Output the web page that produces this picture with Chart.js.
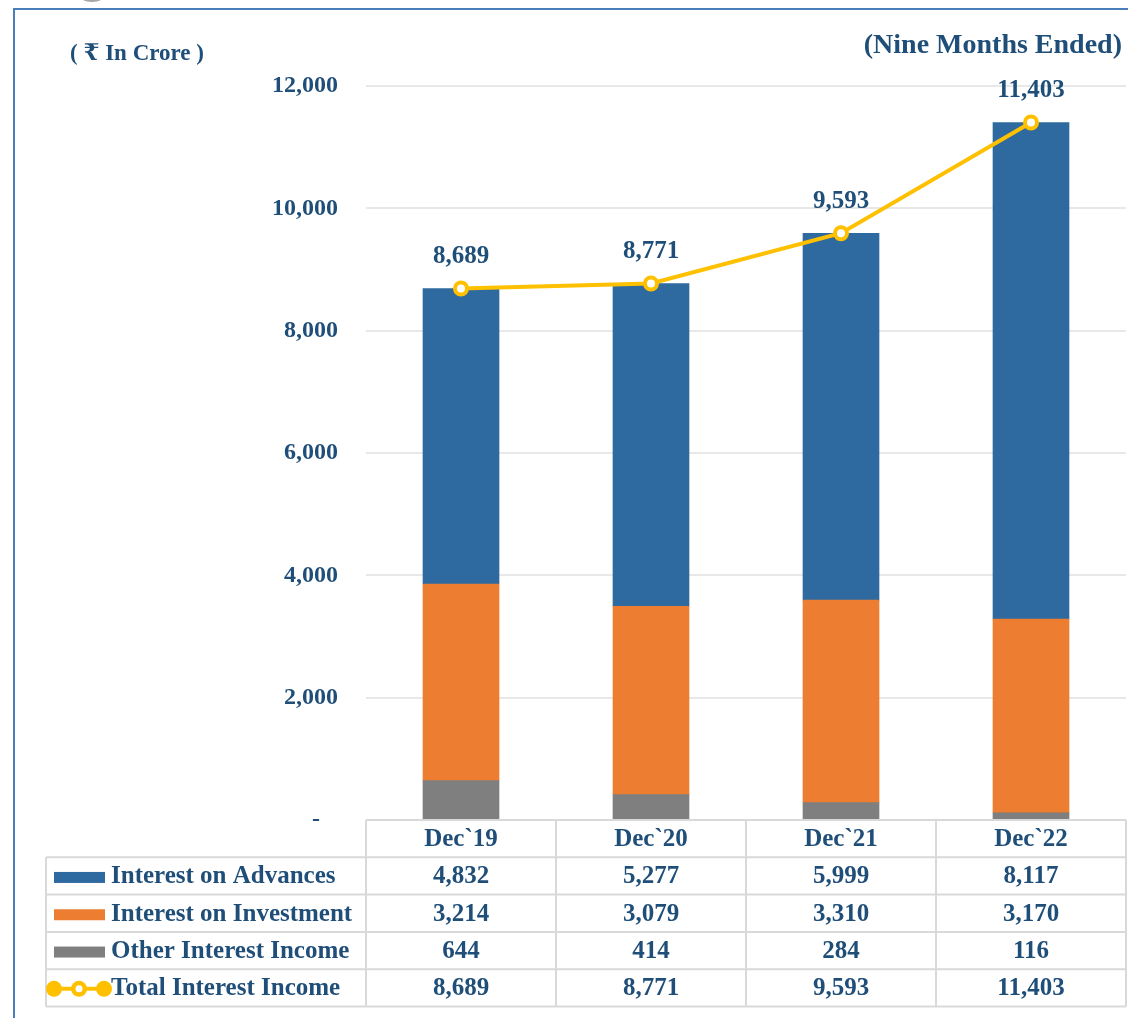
<!DOCTYPE html>
<html>
<head>
<meta charset="utf-8">
<script src="https://cdn.jsdelivr.net/npm/chart.js@4"></script>
<style>
  body { margin: 0; background: #fff; overflow: hidden; }
  #wrap { width: 1128px; height: 1018px; }
  canvas { display: block; }
</style>
</head>
<body>
<div id="wrap"><canvas id="myChart" width="1128" height="1018"></canvas></div>
<script>
'use strict';

// chart data
var categories = ['Dec`19', 'Dec`20', 'Dec`21', 'Dec`22'];
var advances = [4832, 5277, 5999, 8117];
var investment = [3214, 3079, 3310, 3170];
var otherIncome = [644, 414, 284, 116];
var totalIncome = [8689, 8771, 9593, 11403];
var yTicks = [0, 2000, 4000, 6000, 8000, 10000, 12000];

var seriesNames = ['Interest on Advances', 'Interest on Investment', 'Other Interest Income', 'Total Interest Income'];

// colors + fonts
var blue = '#2E6A9F';
var orange = '#ED7D31';
var grey = '#7F7F7F';
var yellow = '#FFC000';
var textBlue = '#1F4E79';
var serif = '"Liberation Serif", "DejaVu Serif", serif';

function fmt(n) {
  return n.toLocaleString('en-US');
}

// table rows built from the arrays
var tableRows = [
  { name: seriesNames[0], values: advances, color: blue, marker: 'box' },
  { name: seriesNames[1], values: investment, color: orange, marker: 'box' },
  { name: seriesNames[2], values: otherIncome, color: grey, marker: 'box' },
  { name: seriesNames[3], values: totalIncome, color: yellow, marker: 'line' }
];

// draws frame, titles, point labels and the data table
var extrasPlugin = {
  id: 'extras',
  afterDraw: function (chart) {
    var ctx = chart.ctx;
    var xs = chart.scales.x;
    var area = chart.chartArea;
    ctx.save();

    // little grey knob cut off at the top
    ctx.fillStyle = '#A6A6A6';
    ctx.beginPath();
    ctx.ellipse(92, -6, 14, 8, 0, 0, Math.PI * 2);
    ctx.fill();

    // blue frame (left + top)
    ctx.strokeStyle = '#4A7EBB';
    ctx.lineWidth = 2;
    ctx.beginPath();
    ctx.moveTo(14, 1018);
    ctx.lineTo(14, 9);
    ctx.lineTo(1128, 9);
    ctx.stroke();

    // titles
    ctx.fillStyle = textBlue;
    ctx.font = 'bold 23px ' + serif;
    ctx.textBaseline = 'middle';
    ctx.textAlign = 'left';
    ctx.fillText('( \u20B9 In Crore )', 70, 54);
    ctx.font = 'bold 28px ' + serif;
    ctx.textAlign = 'right';
    ctx.fillText('(Nine Months Ended)', 1122, 46);

    // labels over the total line
    var meta = chart.getDatasetMeta(3);
    ctx.font = 'bold 25px ' + serif;
    ctx.textAlign = 'center';
    meta.data.forEach(function (pt, i) {
      ctx.fillText(fmt(totalIncome[i]), pt.x, pt.y - 32);
    });

    // data table
    var colW = (area.right - area.left) / categories.length;
    var headTop = area.bottom;
    var rowH = 37.3;
    var tableLeft = 46;
    var tableBottom = headTop + rowH * (tableRows.length + 1);

    ctx.strokeStyle = '#D9D9D9';
    ctx.lineWidth = 2;
    ctx.beginPath();
    ctx.moveTo(area.left, headTop);
    ctx.lineTo(area.right, headTop);
    for (var r = 1; r <= tableRows.length + 1; r++) {
      var yy = headTop + rowH * r;
      ctx.moveTo(tableLeft, yy);
      ctx.lineTo(area.right, yy);
    }
    ctx.moveTo(tableLeft, headTop + rowH);
    ctx.lineTo(tableLeft, tableBottom);
    for (var c = 0; c <= categories.length; c++) {
      var xx = area.left + colW * c;
      ctx.moveTo(xx, headTop);
      ctx.lineTo(xx, tableBottom);
    }
    ctx.stroke();

    ctx.fillStyle = textBlue;
    ctx.font = 'bold 25px ' + serif;
    ctx.textAlign = 'center';
    categories.forEach(function (cat, i) {
      ctx.fillText(cat, xs.getPixelForValue(i), headTop + rowH / 2 + 1);
    });

    tableRows.forEach(function (row, r) {
      var cy = headTop + rowH * (r + 1) + rowH / 2 + 1;
      // legend marker
      if (row.marker === 'box') {
        ctx.fillStyle = row.color;
        ctx.fillRect(54, cy - 5, 51, 11);
      } else {
        ctx.strokeStyle = row.color;
        ctx.lineWidth = 4;
        ctx.beginPath();
        ctx.moveTo(54, cy);
        ctx.lineTo(104, cy);
        ctx.stroke();
        [54, 79, 104].forEach(function (px, k) {
          ctx.beginPath();
          ctx.arc(px, cy, 8, 0, Math.PI * 2);
          ctx.fillStyle = row.color;
          ctx.fill();
          if (k === 1) {
            ctx.beginPath();
            ctx.arc(px, cy, 3.5, 0, Math.PI * 2);
            ctx.fillStyle = '#fff';
            ctx.fill();
          }
        });
      }
      ctx.fillStyle = textBlue;
      ctx.textAlign = 'left';
      ctx.fillText(row.name, 111, cy);
      ctx.textAlign = 'center';
      row.values.forEach(function (v, i) {
        ctx.fillText(fmt(v), xs.getPixelForValue(i), cy);
      });
    });

    ctx.restore();
  }
};

var ctx = document.getElementById('myChart').getContext('2d');
var chart = new Chart(ctx, {
  type: 'bar',
  data: {
    labels: categories,
    datasets: [
      {
        label: seriesNames[2],
        data: otherIncome,
        backgroundColor: grey,
        stack: 'bars',
        order: 1
      },
      {
        label: seriesNames[1],
        data: investment,
        backgroundColor: orange,
        stack: 'bars',
        order: 1
      },
      {
        label: seriesNames[0],
        data: advances,
        backgroundColor: blue,
        stack: 'bars',
        order: 1
      },
      {
        type: 'line',
        label: seriesNames[3],
        data: totalIncome,
        stack: 'total',
        order: 0,
        borderColor: yellow,
        borderWidth: 4,
        pointRadius: 6,
        pointBorderWidth: 4,
        pointBackgroundColor: '#fff',
        pointBorderColor: yellow,
        tension: 0
      }
    ]
  },
  options: {
    responsive: false,
    animation: false,
    devicePixelRatio: 1,
    layout: {
      autoPadding: false,
      padding: { left: 0, right: 2, top: 86, bottom: 198 }
    },
    plugins: {
      legend: { display: false },
      tooltip: { enabled: false }
    },
    datasets: {
      bar: { barThickness: 76 }
    },
    scales: {
      x: {
        display: false,
        stacked: true
      },
      y: {
        stacked: true,
        min: 0,
        max: 12000,
        afterFit: function (scale) { scale.width = 366; },
        afterBuildTicks: function (scale) {
          scale.ticks = yTicks.map(function (v) { return { value: v }; });
        },
        grid: { color: '#E8E8E8', lineWidth: 2, drawTicks: false },
        border: { display: false },
        ticks: {
          padding: 28,
          color: textBlue,
          font: { family: serif, size: 24, weight: 'bold' },
          callback: function (v) { return v === 0 ? '-   ' : fmt(v); }
        }
      }
    }
  },
  plugins: [extrasPlugin]
});
</script>
</body>
</html>
